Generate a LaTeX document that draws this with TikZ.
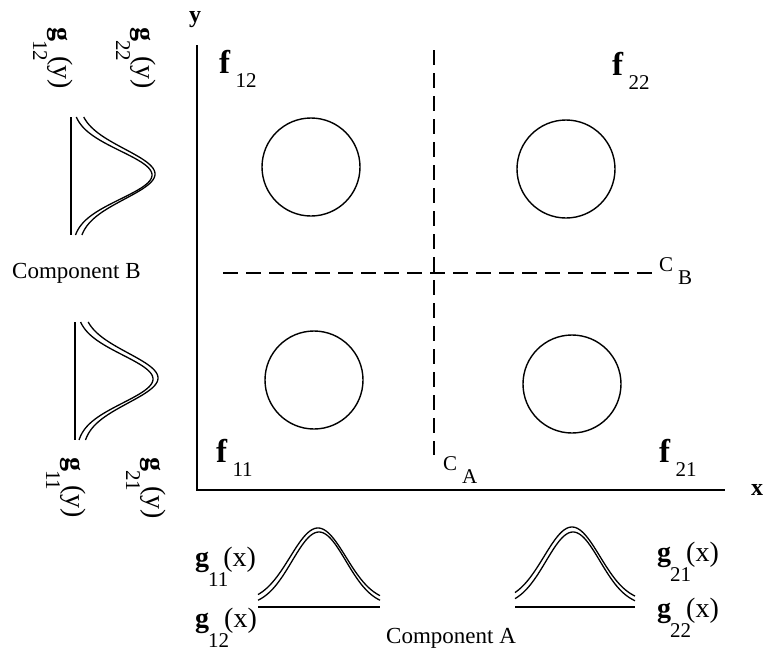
\documentclass[tikz,border=0pt]{standalone}
\usepackage{fontspec}
\setmainfont{Liberation Serif}
\newcommand{\fname}[1]{\textbf{f}\kern5pt\raisebox{-14pt}{\fontsize{21}{21}\selectfont #1}}
\newcommand{\gname}[2]{\textbf{g}\kern-1pt\raisebox{-20pt}{\fontsize{21}{21}\selectfont #1}\kern-5pt(#2)}
\newcommand{\cname}[1]{C\kern5pt\raisebox{-13pt}{#1}}
\usetikzlibrary{positioning}

\begin{document}
\begin{tikzpicture}[x=1pt, y=-1pt,
    axisline/.style={line width=1.6pt},
    cutline/.style={line width=1.5pt, dash pattern=on 15pt off 8pt},
    blob/.style={circle, draw, line width=1.4pt, minimum size=98pt, inner sep=0pt},
    foot/.style={line width=1.5pt},
    curve/.style={line width=1.3pt, samples=80, smooth},
    flab/.style={anchor=base west, inner sep=0pt, font=\fontsize{33}{33}\selectfont},
    glab/.style={anchor=base west, inner sep=0pt, font=\fontsize{28}{28}\selectfont},
    clab/.style={anchor=base west, inner sep=0pt, font=\fontsize{21}{21}\selectfont},
    axlab/.style={anchor=base west, inner sep=0pt, font=\fontsize{24}{24}\selectfont\bfseries},
    comp/.style={anchor=base west, inner sep=0pt, font=\fontsize{23}{23}\selectfont},
    declare function={gauss(\bpos,\bmid,\bwid)=exp(-0.5*(\bpos-\bmid)*(\bpos-\bmid)/(\bwid*\bwid));}
  ]
  \useasboundingbox (0,0) rectangle (765,654);

  % axes
  \coordinate (origin) at (197,490);
  \coordinate (ytop) at (197,45);
  \coordinate (xend) at (725,490);
  \draw[axisline] (ytop) -- (origin) -- (xend);
  \node[axlab] (ylab) at (189,22) {y};
  \node[axlab] (xlab) at (751,495) {x};

  % cut-off lines
  \coordinate (catop) at (434,50);
  \coordinate (cabot) at (434,455);
  \coordinate (cbleft) at (223,273);
  \coordinate (cbright) at (654,273);
  \draw[cutline] (catop) -- (cabot);
  \draw[cutline] (cbleft) -- (cbright);
  \node[clab] (ca) at (443,470) {\cname{A}};
  \node[clab] (cb) at (659,271) {\cname{B}};

  % clusters
  \node[blob] (c12) at (311,167) {};
  \node[blob] (c22) at (566,169) {};
  \node[blob] (c11) at (314,380) {};
  \node[blob] (c21) at (572,384) {};
  \node[flab] (f12) at (219,73) {\fname{12}};
  \node[flab] (f22) at (612,75) {\fname{22}};
  \node[flab] (f11) at (216,462) {\fname{11}};
  \node[flab] (f21) at (659,462) {\fname{21}};

  % component A
  \draw[foot] (258,607) -- (380,607);
  \draw[curve] plot[domain=258:380] (\x,{606-74*gauss(\x,319,27)});
  \draw[curve] plot[domain=258:380] (\x,{602-74*gauss(\x,318,28)});
  \draw[foot] (515,607) -- (635,607);
  \draw[curve] plot[domain=515:635] (\x,{606-74*gauss(\x,573,27)});
  \draw[curve] plot[domain=515:635] (\x,{602-75*gauss(\x,572,28)});
  \node[glab] (g11x) at (195,566) {\gname{11}{x}};
  \node[glab] (g12x) at (195,627) {\gname{12}{x}};
  \node[glab] (g21x) at (657,561) {\gname{21}{x}};
  \node[glab] (g22x) at (657,617) {\gname{22}{x}};
  \node[comp] (compa) at (386,643) {Component A};

  % component B
  \draw[foot] (71,117) -- (71,235);
  \draw[curve] plot[domain=117:235] ({72+80*gauss(\x,175,24)},\x);
  \draw[curve] plot[domain=117:235] ({78+77*gauss(\x,174,25)},\x);
  \draw[foot] (75,322) -- (75,440);
  \draw[curve] plot[domain=322:440] ({76+77*gauss(\x,379,24)},\x);
  \draw[curve] plot[domain=322:440] ({82+76*gauss(\x,378,25)},\x);
  \node[glab, rotate=-90] (g12y) at (53,27) {\gname{12}{y}};
  \node[glab, rotate=-90] (g22y) at (136,27) {\gname{22}{y}};
  \node[glab, rotate=-90] (g11y) at (66,457) {\gname{11}{y}};
  \node[glab, rotate=-90] (g21y) at (146,457) {\gname{21}{y}};
  \node[comp] (compb) at (12,278) {Component B};
\end{tikzpicture}
\end{document}
